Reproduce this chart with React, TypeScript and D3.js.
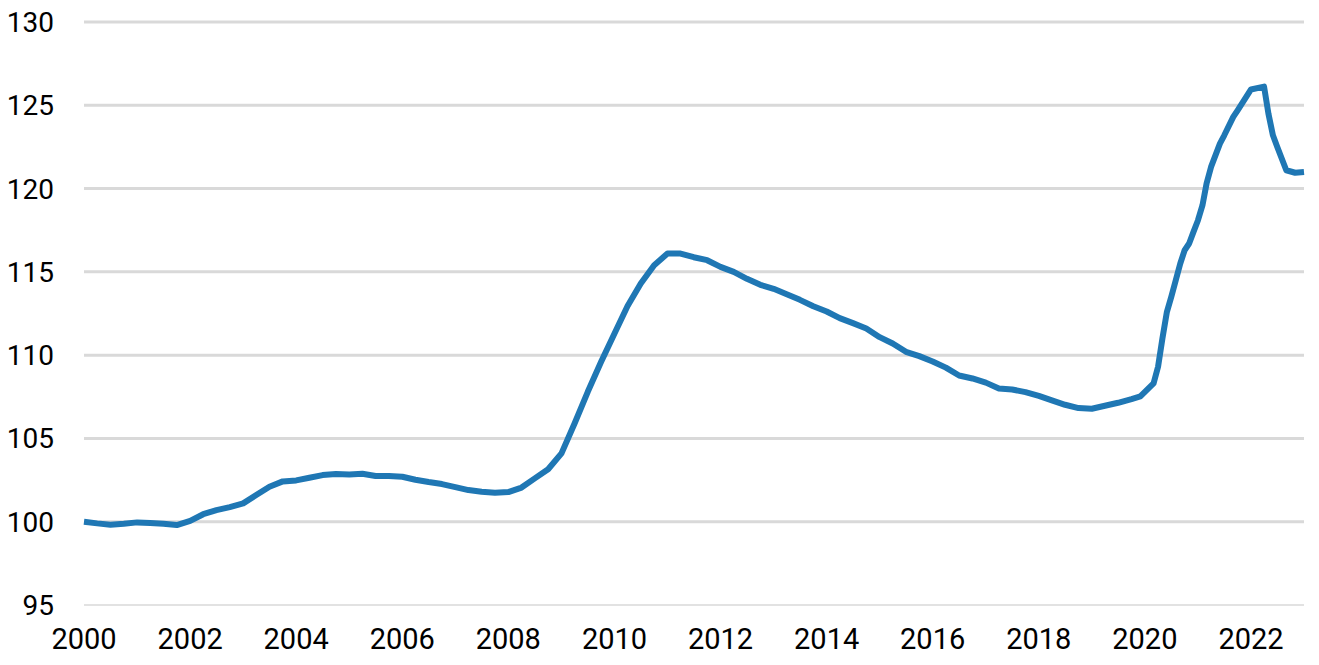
import { useEffect } from "react";
import * as d3 from "d3";

const WIDTH = 1319;
const HEIGHT = 665;
const MARGIN = { top: 22, right: 15, bottom: 60, left: 84 };

// month of observation ("YYYY-MM") and index value (2000 = 100)
const months = [
  "2000-01", "2000-04", "2000-07", "2000-10", "2001-01", "2001-04", "2001-07", "2001-10",
  "2002-01", "2002-04", "2002-07", "2002-10", "2003-01", "2003-04", "2003-07", "2003-10",
  "2004-01", "2004-04", "2004-07", "2004-10", "2005-01", "2005-04", "2005-07", "2005-10",
  "2006-01", "2006-04", "2006-07", "2006-10", "2007-01", "2007-04", "2007-07", "2007-10",
  "2008-01", "2008-04", "2008-07", "2008-10", "2009-01", "2009-04", "2009-07", "2009-10",
  "2010-01", "2010-04", "2010-07", "2010-10", "2011-01", "2011-04", "2011-07", "2011-10",
  "2012-01", "2012-04", "2012-07", "2012-10", "2013-01", "2013-04", "2013-07", "2013-10",
  "2014-01", "2014-04", "2014-07", "2014-10", "2015-01", "2015-04", "2015-07", "2015-10",
  "2016-01", "2016-04", "2016-07", "2016-10", "2017-01", "2017-04", "2017-07", "2017-10",
  "2018-01", "2018-04", "2018-07", "2018-10", "2019-01", "2019-04", "2019-07", "2019-10",
  "2019-12", "2020-03", "2020-04", "2020-05", "2020-06", "2020-07", "2020-08", "2020-09",
  "2020-10", "2020-11", "2020-12", "2021-01", "2021-02", "2021-03", "2021-04", "2021-06",
  "2021-07", "2021-09", "2021-10", "2022-01", "2022-04", "2022-05", "2022-06", "2022-07",
  "2022-09", "2022-11", "2023-01",
];

const index = [
  100.0, 99.9, 99.82, 99.88, 99.96, 99.92, 99.88, 99.8,
  100.05, 100.45, 100.7, 100.88, 101.1, 101.6, 102.1, 102.42,
  102.48, 102.64, 102.8, 102.86, 102.84, 102.88, 102.74, 102.74,
  102.7, 102.52, 102.38, 102.26, 102.08, 101.9, 101.8, 101.74,
  101.78, 102.05, 102.6, 103.15, 104.1, 105.9, 107.8, 109.6,
  111.3, 112.95, 114.3, 115.4, 116.1, 116.1, 115.88, 115.7,
  115.3, 115.0, 114.58, 114.22, 113.98, 113.66, 113.32, 112.94,
  112.62, 112.22, 111.92, 111.6, 111.08, 110.7, 110.2, 109.94,
  109.62, 109.25, 108.78, 108.6, 108.35, 108.0, 107.94, 107.78,
  107.55, 107.28, 107.02, 106.82, 106.78, 106.96, 107.14, 107.36,
  107.52, 108.3, 109.3, 111.0, 112.6, 113.5, 114.5, 115.5,
  116.3, 116.7, 117.4, 118.1, 119.0, 120.3, 121.3, 122.7,
  123.2, 124.3, 124.7, 125.95, 126.12, 124.5, 123.2, 122.5,
  121.1, 120.95, 121.0,
];

const yTicks = [95, 100, 105, 110, 115, 120, 125, 130];
const xTickYears = [2000, 2002, 2004, 2006, 2008, 2010, 2012, 2014, 2016, 2018, 2020, 2022];

type Point = { date: Date; value: number };

const parseMonth = d3.timeParse("%Y-%m");
const data: Point[] = months.map((m, i) => ({ date: parseMonth(m)!, value: index[i] }));

const FONT = "Roboto, 'Noto Sans', sans-serif";

export default function App() {
  useEffect(() => {
    document.body.style.margin = "0";
  }, []);

  const xScale = d3
    .scaleTime()
    .domain([new Date(2000, 0, 1), new Date(2023, 0, 1)])
    .range([MARGIN.left, WIDTH - MARGIN.right]);

  const yScale = d3
    .scaleLinear()
    .domain([95, 130])
    .range([HEIGHT - MARGIN.bottom, MARGIN.top]);

  const linePath = d3
    .line<Point>()
    .x((d) => xScale(d.date))
    .y((d) => yScale(d.value))(data);

  return (
    <svg width={WIDTH} height={HEIGHT} style={{ display: "block", background: "#fff" }}>
      {/* horizontal gridlines, the bottom one is the thin axis line */}
      {yTicks.map((t) => (
        <line
          key={t}
          x1={MARGIN.left}
          x2={WIDTH - MARGIN.right}
          y1={yScale(t)}
          y2={yScale(t)}
          stroke="#d9d9d9"
          strokeWidth={t === 95 ? 1.5 : 3}
        />
      ))}
      {yTicks.map((t) => (
        <text
          key={"yl" + t}
          x={54}
          y={yScale(t) + 10}
          textAnchor="end"
          fontFamily={FONT}
          fontSize={28}
          fill="#000"
        >
          {t}
        </text>
      ))}
      {xTickYears.map((yr) => (
        <text
          key={"xl" + yr}
          x={xScale(new Date(yr, 0, 1))}
          y={649}
          textAnchor="middle"
          fontFamily={FONT}
          fontSize={29}
          fill="#000"
        >
          {yr}
        </text>
      ))}
      <path
        d={linePath ?? ""}
        fill="none"
        stroke="#1f77b4"
        strokeWidth={6}
        strokeLinejoin="round"
      />
    </svg>
  );
}
